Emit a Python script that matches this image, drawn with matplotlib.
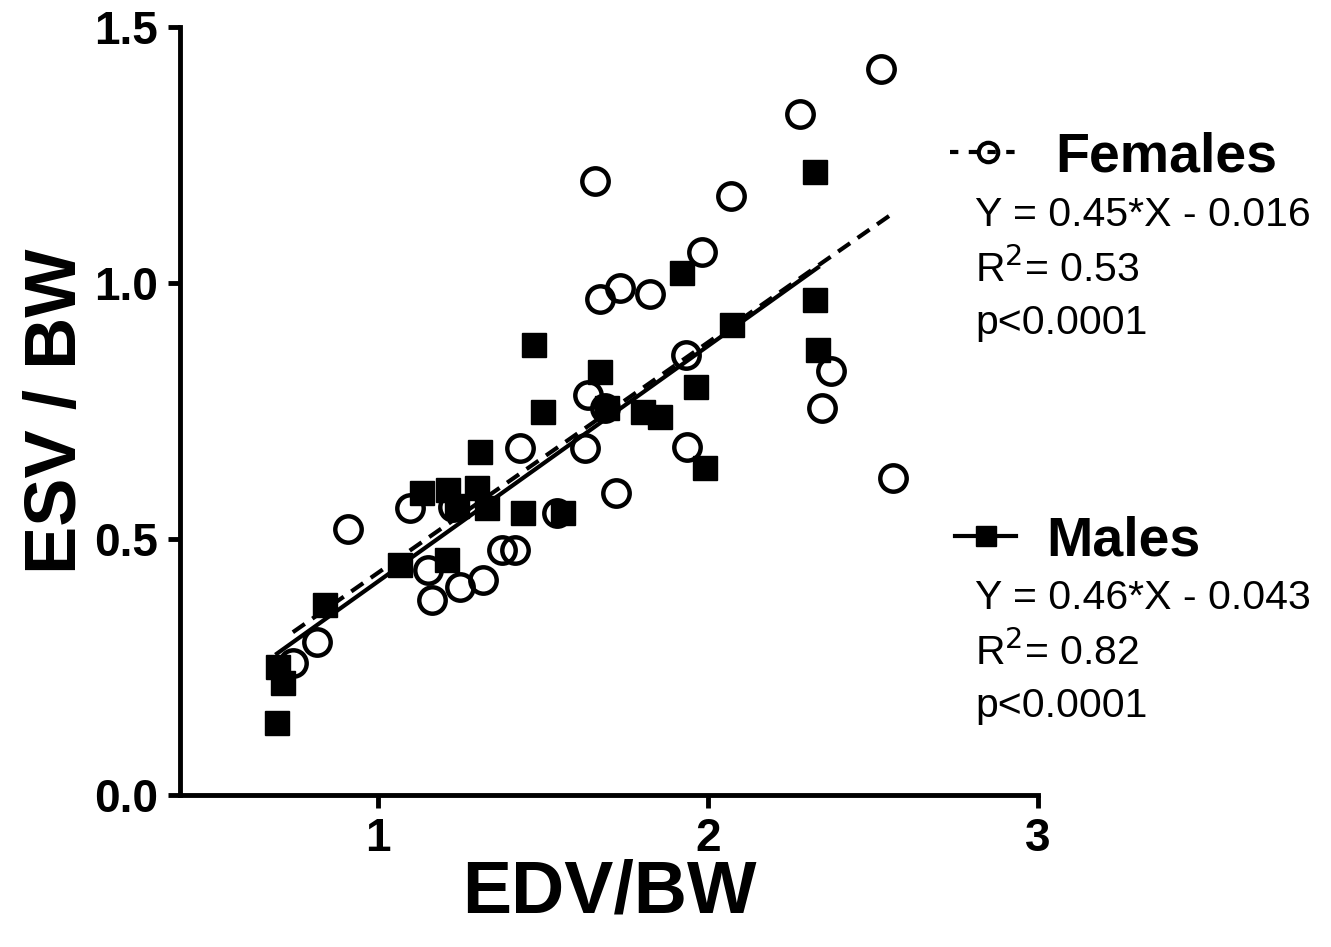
import matplotlib
matplotlib.use('Agg')
import matplotlib.pyplot as plt
from matplotlib.lines import Line2D
import numpy as np

plt.rcParams['font.family'] = ['Liberation Sans', 'DejaVu Sans']

# females (open circles)
fem_x = [2.524, 2.279, 1.658, 2.070, 1.982, 1.673, 1.733, 1.824, 1.933, 2.373,
         2.345, 2.561, 1.936, 1.721, 1.636, 1.627, 1.688, 1.430, 0.909, 1.097,
         1.227, 1.542, 1.376, 1.415, 1.152, 1.248, 1.318, 1.164, 0.815, 0.742]
fem_y = [1.418, 1.330, 1.199, 1.170, 1.061, 0.969, 0.990, 0.979, 0.859, 0.828,
         0.756, 0.619, 0.680, 0.590, 0.781, 0.678, 0.756, 0.678, 0.520, 0.561,
         0.563, 0.551, 0.479, 0.479, 0.439, 0.406, 0.420, 0.381, 0.299, 0.258]

# males (filled squares)
male_x = [2.324, 1.921, 2.324, 2.073, 2.333, 1.964, 1.673, 1.803, 1.855, 1.991,
          1.694, 1.473, 1.500, 1.309, 1.133, 1.212, 1.300, 1.330, 1.239, 1.439,
          1.561, 1.067, 1.209, 0.839, 0.697, 0.712, 0.694]
male_y = [1.217, 1.020, 0.967, 0.918, 0.869, 0.797, 0.826, 0.748, 0.738, 0.639,
          0.756, 0.879, 0.748, 0.670, 0.590, 0.596, 0.600, 0.561, 0.565, 0.551,
          0.551, 0.449, 0.459, 0.371, 0.250, 0.219, 0.141]

fem_fit = (0.45, -0.016)
male_fit = (0.46, -0.043)

fem_lines = ['Y = 0.45*X - 0.016', 'R$^2$= 0.53', 'p<0.0001']
male_lines = ['Y = 0.46*X - 0.043', 'R$^2$= 0.82', 'p<0.0001']

W, H = 1331, 947
fig = plt.figure(figsize=(W / 100, H / 100), dpi=100)
ax = fig.add_axes([180 / W, 1 - 795 / H, (1038 - 180) / W, (795 - 27) / H])

# fit lines
fx = np.array([min(fem_x), max(fem_x)])
ax.plot(fx, fem_fit[0] * fx + fem_fit[1], color='k', lw=3, ls=(0, (3.5, 2.2)), zorder=2)
mx = np.array([min(male_x), max(male_x)])
ax.plot(mx, male_fit[0] * mx + male_fit[1], color='k', lw=3, zorder=2)

ax.plot(fem_x, fem_y, ls='none', marker='o', ms=19, mfc='none', mec='k', mew=3.2, zorder=3)
ax.plot(male_x, male_y, ls='none', marker='s', ms=17, mfc='k', mec='k', zorder=3)

ax.set_xlim(0.4, 3)
ax.set_ylim(0, 1.5)
ax.set_xticks([1, 2, 3])
ax.set_yticks([0, 0.5, 1.0, 1.5])
ax.set_yticklabels(['0.0', '0.5', '1.0', '1.5'])
for s in ['top', 'right']:
    ax.spines[s].set_visible(False)
for s in ['left', 'bottom']:
    ax.spines[s].set_linewidth(3.5)
ax.tick_params(width=3.5, length=9, labelsize=33, pad=7)
for lab in ax.get_xticklabels() + ax.get_yticklabels():
    lab.set_fontweight('bold')

ax.set_xlabel('EDV/BW', fontsize=53, fontweight='bold', labelpad=-2)
ax.set_ylabel('ESV / BW', fontsize=52, fontweight='bold', labelpad=2)

# legend-like blocks on the right
h_f = Line2D([], [], color='k', lw=3, ls=(0, (2.0, 2.5)), marker='o', ms=14,
             mfc='none', mec='k', mew=3)
h_m = Line2D([], [], color='k', lw=3, marker='s', ms=14, mfc='k', mec='k')
for h, name, yp, x0, hl in [(h_f, 'Females', 157, 950, 1.35), (h_m, 'Males', 541, 955, 1.1)]:
    fig.legend([h], [name], loc='center left',
               bbox_to_anchor=(x0 / W, 1 - yp / H), frameon=False,
               borderpad=0, borderaxespad=0,
               handlelength=hl, handletextpad=0.55,
               prop={'size': 40, 'weight': 'bold'})

for i, t in enumerate(fem_lines):
    fig.text(975 / W, 1 - (215 + 54 * i) / H, t, fontsize=29.5, va='center', ha='left')
for i, t in enumerate(male_lines):
    fig.text(975 / W, 1 - (598 + 54 * i) / H, t, fontsize=29.5, va='center', ha='left')

fig.savefig('out.png', dpi=100)
